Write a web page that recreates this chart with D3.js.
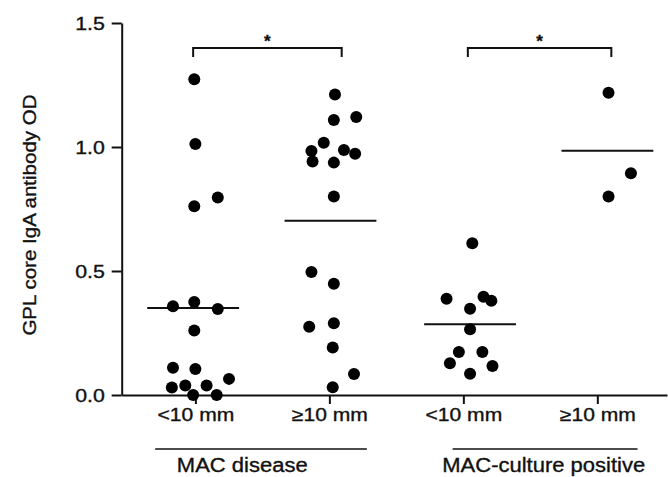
<!DOCTYPE html>
<html>
<head>
<meta charset="utf-8">
<script src="https://cdn.jsdelivr.net/npm/d3@7"></script>
<style>
  html, body { margin: 0; padding: 0; background: #fff; }
  svg { display: block; }
  text { font-family: "Liberation Sans", Arial, Helvetica, sans-serif; fill: #111; stroke: #111; stroke-width: 0.35px; }
</style>
</head>
<body>
<svg id="chart" width="668" height="477"></svg>
<script>
// Skin-test groups along the x axis
const groupLabels = ["<10 mm", "≥10 mm", "<10 mm", "≥10 mm"];
const panelLabels = ["MAC disease", "MAC-culture positive"];
const yTicks = [0, 0.5, 1.0, 1.5];

// Antibody OD per subject, with horizontal spread (in dot slots) for each point
const macDiseaseSmall = [1.273, 1.012, 0.761, 0.796, 0.358, 0.375, 0.347, 0.260, 0.110, 0.105, 0.065, 0.030, 0.038, 0.038, 0.000, 0.000];
const macDiseaseSmallSpread = [-0.1, 0, -0.1, 2.0, -2.0, -0.1, 2.0, -0.1, -2.0, 0, 3.0, -2.1, -0.9, 1.0, -0.2, 1.9];

const macDiseaseLarge = [1.212, 1.109, 1.121, 1.017, 0.984, 0.942, 0.988, 0.973, 0.937, 0.800, 0.496, 0.449, 0.275, 0.289, 0.192, 0.085, 0.031];
const macDiseaseLargeSpread = [0.5, 0.4, 2.4, -0.5, -1.6, -1.5, 1.3, 2.3, 0.4, 0.4, -1.6, 0.4, -1.8, 0.4, 0.3, 2.2, 0.3];

const cultureSmall = [0.612, 0.388, 0.396, 0.380, 0.348, 0.265, 0.173, 0.173, 0.128, 0.117, 0.086];
const cultureSmallSpread = [0.8, -1.5, 1.8, 2.5, 0.6, 0.6, -0.4, 1.7, -1.2, 2.6, 0.6];

const cultureLarge = [1.219, 0.894, 0.800];
const cultureLargeSpread = [1.0, 3.0, 1.0];

// Group means (horizontal bars)
const groupMeans = [0.351, 0.703, 0.285, 0.985];
const meanShift = [-0.2, 0.1, 0.6, 0.9];

// Significance brackets between groups
const brackets = [
  { from: 0, to: 1, fromShift: -0.2, toShift: 1.1, label: "*" },
  { from: 2, to: 3, fromShift: 0.4, toShift: 1.25, label: "*" }
];

const series = [
  { values: macDiseaseSmall, spread: macDiseaseSmallSpread },
  { values: macDiseaseLarge, spread: macDiseaseLargeSpread },
  { values: cultureSmall, spread: cultureSmallSpread },
  { values: cultureLarge, spread: cultureLargeSpread }
];

const points = series.flatMap((s, g) =>
  s.values.map((v, i) => ({ group: g, value: v, spread: s.spread[i] })));

const svg = d3.select("#chart");

const x = d3.scaleLinear().domain([-0.55, 3.52]).range([121.7, 667]);
const y = d3.scaleLinear().domain([0, 1.5]).range([395, 23]);
const slot = 0.0836;           // one dot-width in group units
const meanHalf = 4.1 * slot;   // half-length of mean bars

// Stretch glyphs slightly wider, like the typeface used in the figure
function widen(sel, k) {
  sel.each(function () {
    const len = this.getComputedTextLength();
    this.setAttribute("textLength", len * k);
    this.setAttribute("lengthAdjust", "spacingAndGlyphs");
  });
}

// Y axis
const yAxis = svg.append("g")
  .attr("transform", `translate(${x.range()[0]},0)`)
  .call(d3.axisLeft(y).tickValues(yTicks).tickFormat(d3.format(".1f"))
    .tickSize(10).tickSizeOuter(0).tickPadding(7));
yAxis.selectAll("path, line").attr("stroke", "#111").attr("stroke-width", 2);
yAxis.selectAll("text").attr("font-size", 18.5).attr("font-family", null).attr("dy", "0.36em").attr("fill", null);
widen(yAxis.selectAll("text"), 1.15);

// X axis
const xAxis = svg.append("g")
  .attr("transform", `translate(0,${y(0)})`)
  .call(d3.axisBottom(x).tickValues([0, 1, 2, 3]).tickFormat(i => groupLabels[i])
    .tickSize(9).tickSizeOuter(0).tickPadding(4));
xAxis.selectAll("path, line").attr("stroke", "#111").attr("stroke-width", 2);
xAxis.selectAll("text").attr("font-size", 18).attr("font-family", null).attr("fill", null);
widen(xAxis.selectAll("text"), 1.17);

// Panel underlines and names
const panelSpan = [[-0.3, 1.28], [1.92, 3.3]];
const panelCentre = [0.35, 2.6];
panelLabels.forEach((name, p) => {
  const [a, b] = panelSpan[p];
  svg.append("line")
    .attr("x1", x(a)).attr("x2", x(b))
    .attr("y1", 449).attr("y2", 449)
    .attr("stroke", "#111").attr("stroke-width", 1.4);
  const t = svg.append("text")
    .attr("x", x(panelCentre[p]))
    .attr("y", 472)
    .attr("text-anchor", "middle")
    .attr("font-size", 20)
    .text(name);
  widen(t, 1.1);
});

// Y axis title
const title = svg.append("text")
  .attr("transform", "translate(36,215) rotate(-90)")
  .attr("text-anchor", "middle")
  .attr("font-size", 18.5)
  .text("GPL core IgA antibody OD");
widen(title, 1.11);

// Mean bars
svg.append("g").selectAll("line")
  .data(groupMeans)
  .join("line")
  .attr("x1", (m, g) => x(g + meanShift[g] * slot - meanHalf))
  .attr("x2", (m, g) => x(g + meanShift[g] * slot + meanHalf))
  .attr("y1", m => y(m)).attr("y2", m => y(m))
  .attr("stroke", "#111").attr("stroke-width", 2);

// Individual subjects
svg.append("g").selectAll("circle")
  .data(points)
  .join("circle")
  .attr("cx", d => x(d.group + d.spread * slot))
  .attr("cy", d => y(d.value))
  .attr("r", 6)
  .attr("fill", "#000");

// Significance brackets
const bracketTop = 48, bracketDrop = 9;
brackets.forEach(b => {
  const x0 = x(b.from + b.fromShift * slot), x1 = x(b.to + b.toShift * slot);
  svg.append("path")
    .attr("d", `M${x0},${bracketTop + bracketDrop}V${bracketTop}H${x1}V${bracketTop + bracketDrop}`)
    .attr("fill", "none").attr("stroke", "#111").attr("stroke-width", 2);
  svg.append("text")
    .attr("x", (x0 + x1) / 2)
    .attr("y", bracketTop - 1)
    .attr("text-anchor", "middle")
    .attr("font-size", 17)
    .attr("font-weight", "bold")
    .text(b.label);
});
</script>
</body>
</html>
